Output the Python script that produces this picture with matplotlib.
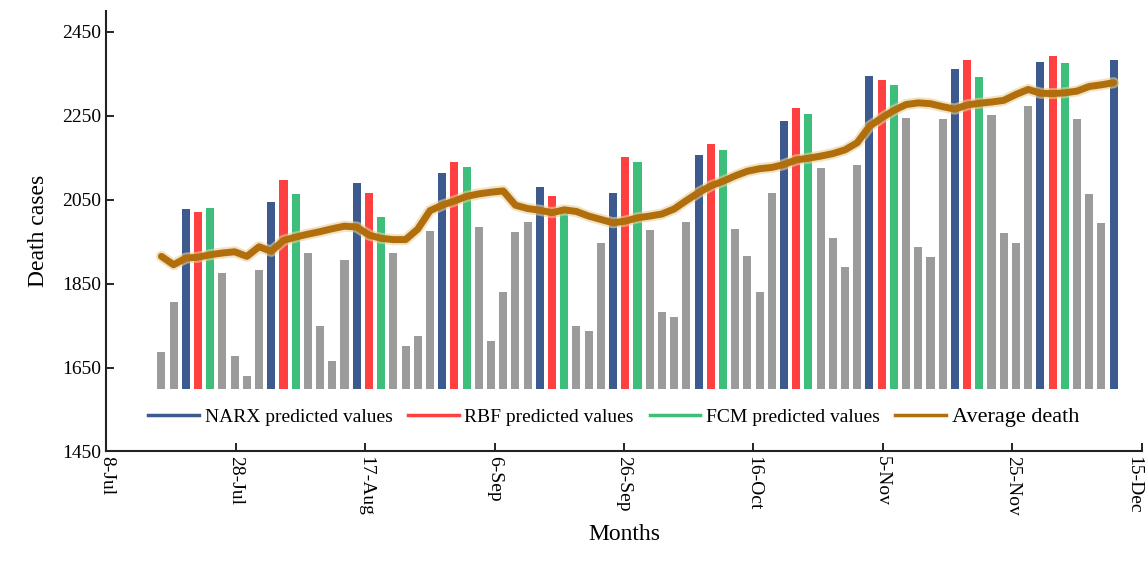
import matplotlib
matplotlib.use("Agg")
import matplotlib.pyplot as plt
import matplotlib.patheffects as pe
import matplotlib.transforms as mtransforms
from matplotlib.lines import Line2D
import numpy as np

N = None
# x-axis tick labels (every 20 days from 8-Jul)
tick_labels = ["8-Jul", "28-Jul", "17-Aug", "6-Sep", "26-Sep", "16-Oct", "5-Nov", "25-Nov", "15-Dec"]

# bar series, one value per slot (None = no bar in that slot)
actual = [1688, 1807, N, N, N, 1876, 1678, 1630, 1883, N,
          N, N, 1923, 1748, 1666, 1907, N, N, N, 1924,
          1702, 1725, 1976, N, N, N, 1985, 1713, 1830, 1973,
          1998, N, N, N, 1748, 1736, 1947, N, N, N,
          1978, 1783, 1771, 1998, N, N, N, 1980, 1915, 1830,
          2066, N, N, N, 2126, 1959, 1889, 2134, N, N,
          N, 2245, 1937, 1913, 2243, N, N, N, 2253, 1971,
          1948, 2273, N, N, N, 2243, 2064, 1994, N]
narx = [N, N, 2028, N, N, N, N, N, N, 2044,
        N, N, N, N, N, N, 2091, N, N, N,
        N, N, N, 2114, N, N, N, N, N, N,
        N, 2080, N, N, N, N, N, 2066, N, N,
        N, N, N, N, 2157, N, N, N, N, N,
        N, 2238, N, N, N, N, N, N, 2346, N,
        N, N, N, N, N, 2362, N, N, N, N,
        N, N, 2378, N, N, N, N, N, 2382]
rbf = [N, N, N, 2020, N, N, N, N, N, N,
       2098, N, N, N, N, N, N, 2066, N, N,
       N, N, N, N, 2141, N, N, N, N, N,
       N, N, 2060, N, N, N, N, N, 2152, N,
       N, N, N, N, N, 2183, N, N, N, N,
       N, N, 2269, N, N, N, N, N, N, 2335,
       N, N, N, N, N, N, 2382, N, N, N,
       N, N, N, 2392, N, N, N, N, N]
fcm = [N, N, N, N, 2030, N, N, N, N, N,
       N, 2064, N, N, N, N, N, N, 2010, N,
       N, N, N, N, N, 2128, N, N, N, N,
       N, N, N, 2018, N, N, N, N, N, 2139,
       N, N, N, N, N, N, 2169, N, N, N,
       N, N, N, 2255, N, N, N, N, N, N,
       2323, N, N, N, N, N, N, 2343, N, N,
       N, N, N, N, 2375, N, N, N, N]
average = [1915, 1895, 1911, 1913, 1919, 1923, 1926, 1915, 1938, 1927,
           1953, 1961, 1968, 1974, 1981, 1987, 1985, 1966, 1958, 1955,
           1955, 1980, 2024, 2037, 2047, 2058, 2064, 2068, 2071, 2037,
           2029, 2025, 2019, 2026, 2022, 2011, 2003, 1995, 1999, 2007,
           2011, 2016, 2028, 2048, 2067, 2083, 2094, 2107, 2118, 2124,
           2127, 2134, 2145, 2149, 2154, 2160, 2169, 2186, 2225, 2245,
           2263, 2277, 2281, 2279, 2272, 2266, 2276, 2280, 2283, 2287,
           2301, 2313, 2304, 2303, 2305, 2309, 2320, 2324, 2329]

legend_labels = ["NARX predicted values", "RBF predicted values",
                 "FCM predicted values", "Average death"]

c_grey, c_blue, c_red, c_green, c_brown = "#9B9B9B", "#3D5A8E", "#FF4040", "#3DBE7A", "#B06E0C"

serif = ["Liberation Serif", "DejaVu Serif"]
plt.rcParams["font.family"] = serif

fig = plt.figure(figsize=(11.45, 5.64), dpi=100)
ax = fig.add_axes([0.093, 0.1996, 0.904, 0.7809])

n = len(actual)
start_day, step = 8.49, 1.887
xpos = start_day + step * np.arange(n)
width = step * 0.66
base = 1600

def draw(series, color):
    idx = [i for i, v in enumerate(series) if v is not None]
    ax.bar(xpos[idx], [series[i] - base for i in idx], bottom=base,
           width=width, color=color, zorder=2)

draw(actual, c_grey)
draw(narx, c_blue)
draw(rbf, c_red)
draw(fcm, c_green)

ax.plot(xpos, average, color=c_brown, lw=5, solid_capstyle="round", zorder=3,
        path_effects=[pe.Stroke(linewidth=8, foreground="#E9CF9A", alpha=0.6), pe.Normal()])

ax.set_xlim(0, 160)
ax.set_ylim(1450, 2500)
ax.set_xticks(np.arange(0, 161, 20))
ax.set_xticklabels(tick_labels, rotation=-90, fontsize=14)
ax.set_yticks(np.arange(1450, 2451, 200))
ax.tick_params(axis="y", labelsize=14, direction="in", length=6, width=1.2)
ax.tick_params(axis="x", direction="in", length=6, width=1.2)
for s in ("top", "right"):
    ax.spines[s].set_visible(False)
for s in ("left", "bottom"):
    ax.spines[s].set_linewidth(1.5)
    ax.spines[s].set_color("#222222")

# nudge the last tick label inward so it stays within the figure
last = ax.get_xticklabels()[-1]
last.set_transform(last.get_transform() +
                   mtransforms.ScaledTranslation(-0.08, 0, fig.dpi_scale_trans))

ax.set_ylabel("Death cases", fontsize=17, labelpad=10)
ax.set_xlabel("Months", fontsize=17, labelpad=6)

handles = [Line2D([], [], color=c, lw=2.5) for c in (c_blue, c_red, c_green, c_brown)]
leg = ax.legend(handles, legend_labels, loc="center", bbox_to_anchor=(0.49, 0.078),
                ncol=4, frameon=False, fontsize=14, handlelength=2.6,
                columnspacing=0.8, handletextpad=0.3)
leg.get_texts()[3].set_fontsize(16)

fig.savefig("out.png", dpi=100)
